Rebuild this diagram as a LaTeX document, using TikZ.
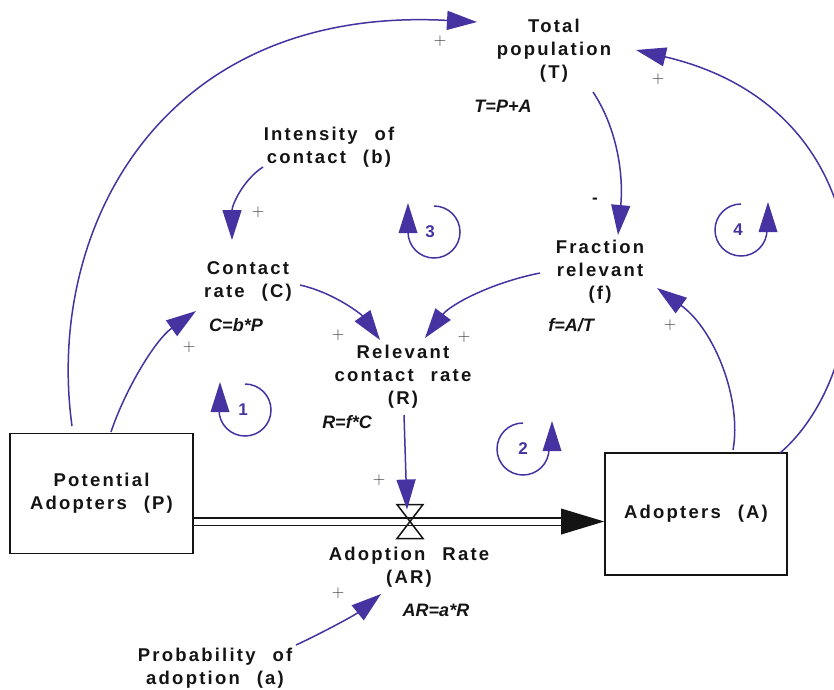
\documentclass[tikz,border=0pt]{standalone}
\usepackage{fontspec}
\setmainfont{Liberation Sans}
\newfontfamily\lblfont{Liberation Sans}[LetterSpace=12,WordSpace=2.3]
\usetikzlibrary{arrows.meta,calc}

\definecolor{linkcol}{RGB}{70,50,160}
\definecolor{inkcol}{RGB}{20,20,20}

\tikzset{
  var/.style={align=center, font=\lblfont\bfseries\fontsize{18.5}{23}\selectfont,
    text=inkcol, inner sep=0pt},
  eqn/.style={font=\bfseries\itshape\fontsize{18}{22}\selectfont, text=inkcol, inner sep=0pt},
  stock/.style={draw=inkcol, line width=1.6pt, inner sep=0pt},
  link/.style={draw=linkcol, line width=1.5pt, -{Triangle[length=30pt,width=19pt]}},
  pol/.style={font=\fontsize{18}{18}\selectfont, text=inkcol!85, inner sep=0pt},
  loopnum/.style={font=\bfseries\fontsize{17}{17}\selectfont, text=linkcol, inner sep=0pt},
  loopline/.style={draw=linkcol, line width=1.5pt},
  looptip/.style={fill=linkcol},
  pipe/.style={draw=inkcol, line width=1.4pt, double=white, double distance=6pt},
  valvestyle/.style={draw=inkcol, line width=1.5pt, line join=miter},
}

\begin{document}
\begin{tikzpicture}[x=1pt,y=-1pt]
\useasboundingbox (0,0) rectangle (834,689);

% stocks
\node[stock, var, minimum width=183pt, minimum height=120pt] (P) at (101.5,493.5)
  {Potential\\Adopters (P)};
\node[stock, var, minimum width=182pt, minimum height=122pt] (A) at (696,514)
  {Adopters (A)};

% auxiliaries and their equations
\node[var] (T) at (554,51) {Total\\population\\(T)};
\node[eqn] (Teq) at (503,106) {T=P+A};
\node[var] (b) at (329,147) {Intensity of\\contact (b)};
\node[var] (C) at (248,281) {Contact\\rate (C)};
\node[eqn] (Ceq) at (236,325) {C=b*P};
\node[var] (R) at (403,377) {Relevant\\contact rate\\(R)};
\node[eqn] (Req) at (347,422) {R=f*C};
\node[var] (f) at (600,272) {Fraction\\relevant\\(f)};
\node[eqn] (feq) at (571,325) {f=A/T};
\node[var] (AR) at (409,567) {Adoption Rate\\(AR)};
\node[eqn] (AReq) at (436,610) {AR=a*R};
\node[var] (a) at (215,668) {Probability of\\adoption (a)};

% flow from P to A through the valve
\coordinate (valve) at (410,521.5);
\draw[pipe, shorten >=38pt] (P.east |- valve) -- (A.west |- valve);
\fill[inkcol] (A.west |- valve) -- ++(-43,-13) -- ++(0,26) -- cycle;
\draw[valvestyle] ($(valve)+(-13,-17)$) -- ($(valve)+(13,-17)$)
  -- ($(valve)+(-13,17)$) -- ($(valve)+(13,17)$) -- cycle;

% causal links
\draw[link] ($(P)+(-29.5,-67.5)$) .. controls (45,230) and (160,5) .. ($(T)+(-77,-29)$);
\draw[link] ($(A)+(84,-61)$) .. controls (882,365) and (892,110) .. ($(T)+(82,-1)$);
\draw[link] ($(b)+(-66,20)$) .. controls (243,180) and (232,205) .. ($(C)+(-16,-41)$);
\draw[link] ($(P)+(9.5,-61.5)$) .. controls (125,390) and (155,340) .. ($(C)+(-52,30)$);
\draw[link] ($(C)+(52,4)$) .. controls (335,293) and (362,315) .. ($(R)+(-23,-37)$);
\draw[link] ($(f)+(-60,1)$) .. controls (490,283) and (450,305) .. ($(R)+(22,-39)$);
\draw[link] ($(T)+(39,41)$) .. controls (615,125) and (624,170) .. ($(f)+(18,-37)$);
\draw[link] ($(A)+(37,-64)$) .. controls (742,400) and (715,330) .. ($(f)+(57,16)$);
\draw[link] ($(R)+(1,38)$) -- ($(valve)+(-3,-12)$);
\draw[link] ($(a)+(81,-23)$) .. controls (322,633) and (355,615) .. ($(AR)+(-28,27)$);

% link polarities
\node[pol] (s1) at (440,41) {$+$};
\node[pol] (s2) at (658,79) {$+$};
\node[pol] (s3) at (258,212) {$+$};
\node[pol] (s4) at (189,347) {$+$};
\node[pol] (s5) at (338,335) {$+$};
\node[pol] (s6) at (464,337) {$+$};
\node[font=\bfseries\fontsize{17}{17}\selectfont, text=inkcol, inner sep=0pt] (s7) at (595,201) {-};
\node[pol] (s8) at (670,325) {$+$};
\node[pol] (s9) at (379,480) {$+$};
\node[pol] (s10) at (338,593) {$+$};

% feedback loop markers
\draw[loopline] (245,384) arc[start angle=90, end angle=-180, radius=26pt];
\fill[looptip] (220,382) -- (229.5,412) -- (210.5,412) -- cycle;
\node[loopnum] (L1) at (243,410) {1};

\draw[loopline] (434,206) arc[start angle=90, end angle=-180, radius=26pt];
\fill[looptip] (408,203) -- (417.5,233) -- (398.5,233) -- cycle;
\node[loopnum] (L3) at (430,232) {3};

\draw[loopline] (523,423) arc[start angle=90, end angle=360, radius=26pt];
\fill[looptip] (552,421) -- (561.5,451) -- (542.5,451) -- cycle;
\node[loopnum] (L2) at (523,449) {2};

\draw[loopline] (741,204) arc[start angle=90, end angle=360, radius=26pt];
\fill[looptip] (768,202) -- (777.5,232) -- (758.5,232) -- cycle;
\node[loopnum] (L4) at (738,230) {4};

\end{tikzpicture}
\end{document}
